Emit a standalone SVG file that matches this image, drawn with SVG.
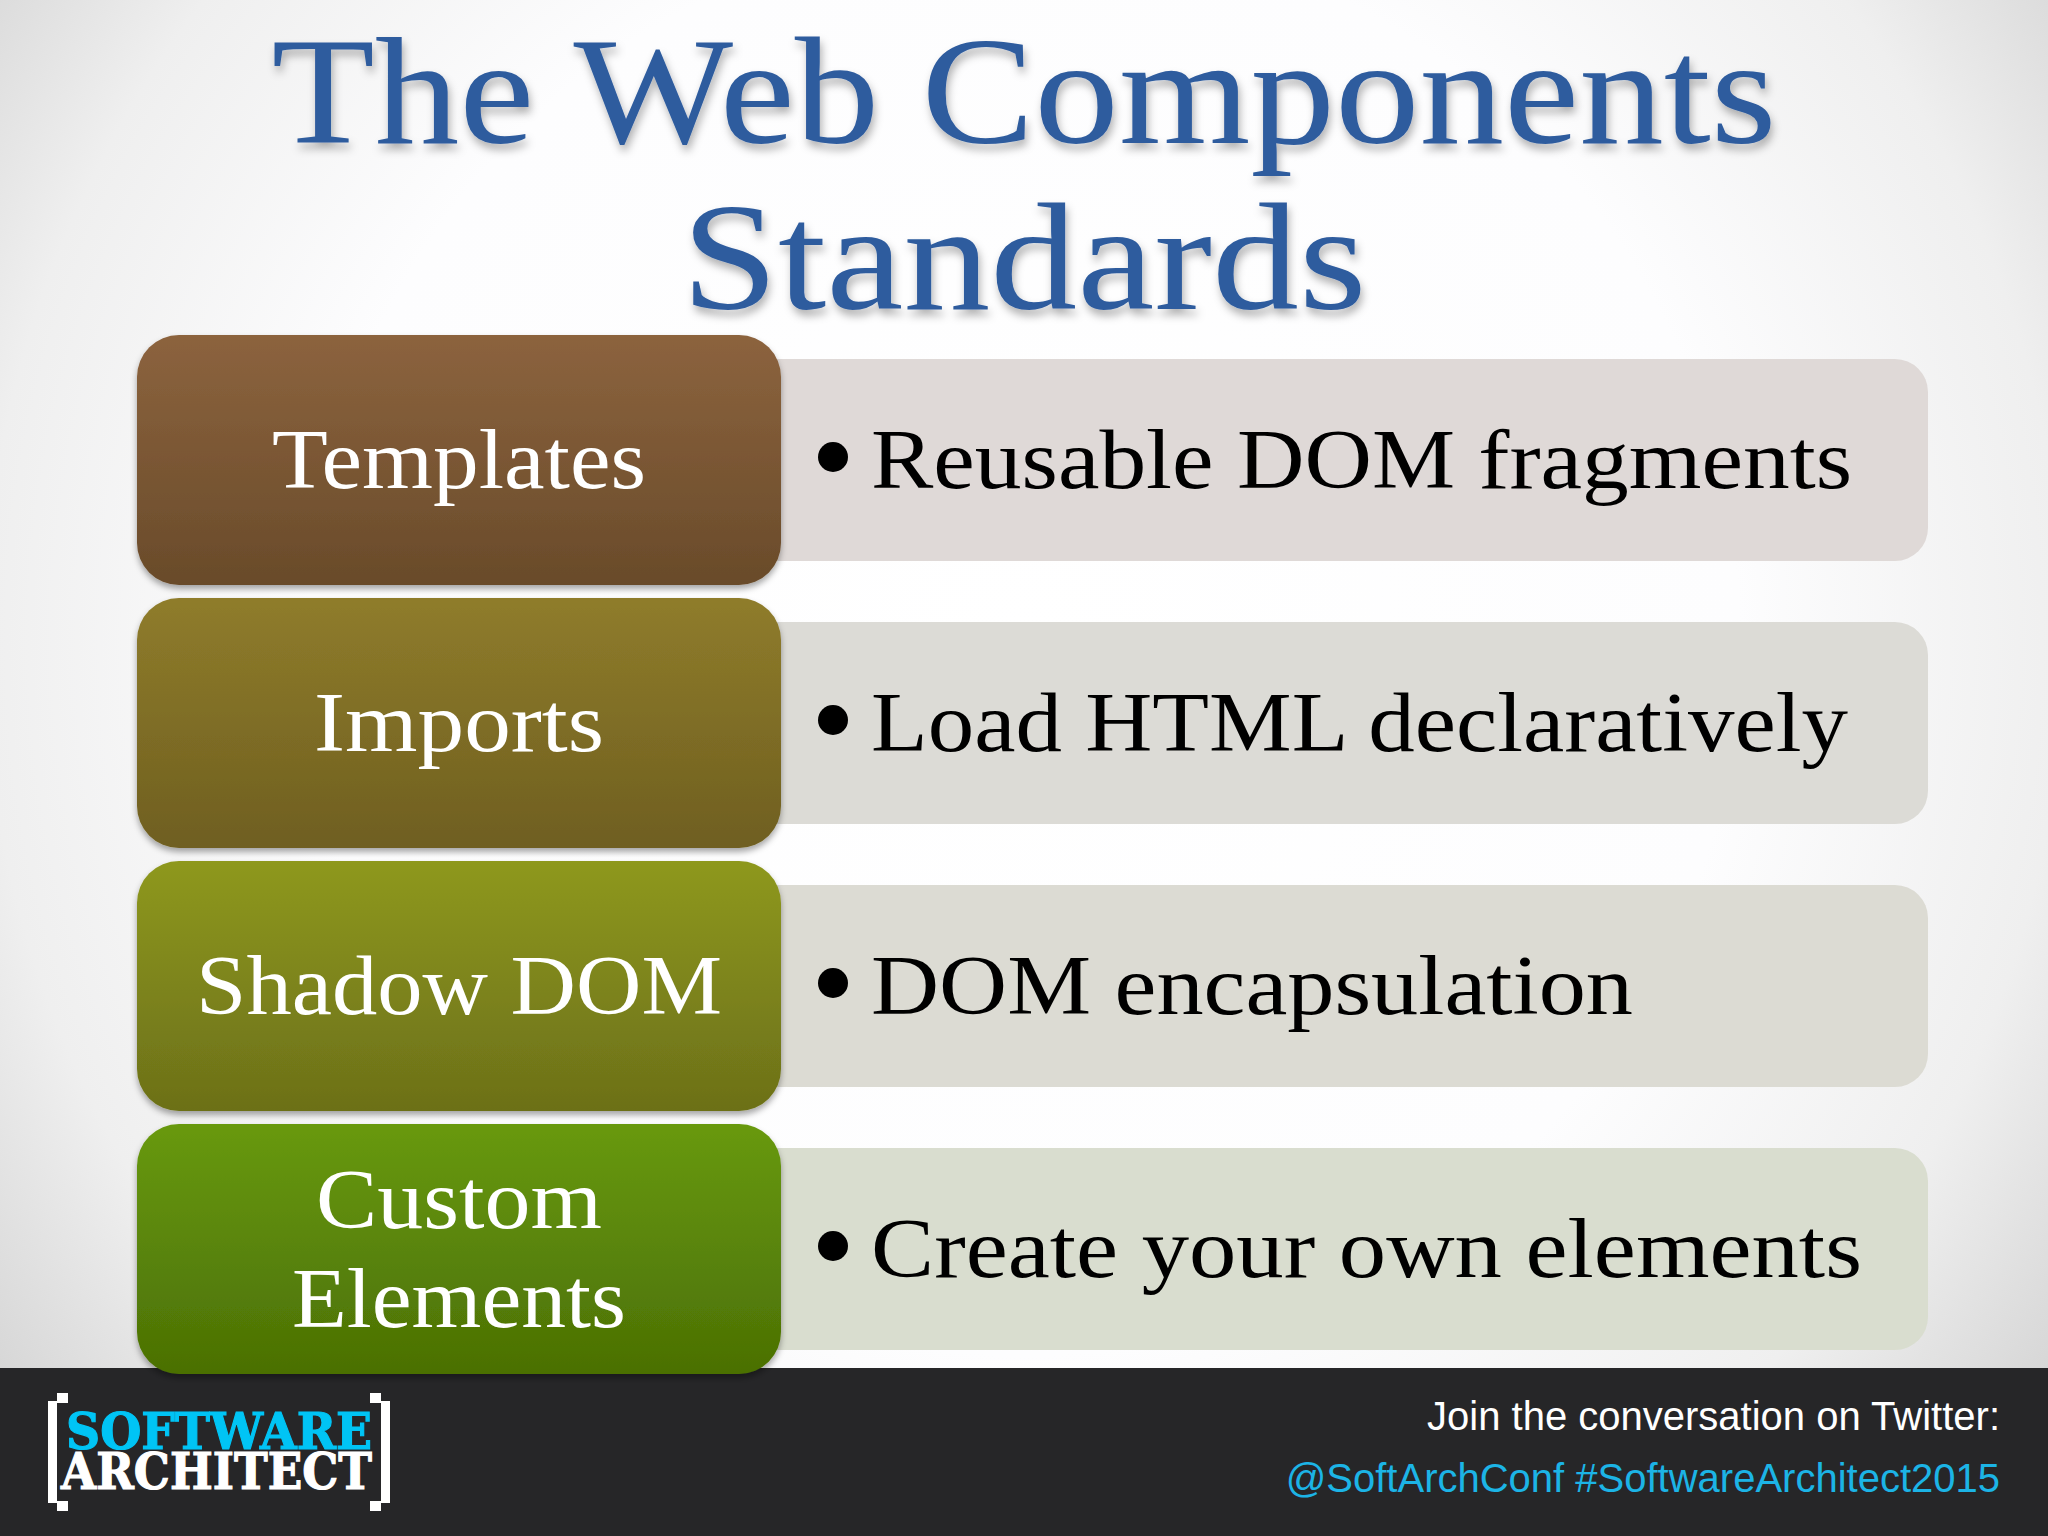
<svg xmlns="http://www.w3.org/2000/svg" width="2048" height="1536" viewBox="0 0 2048 1536">
<style>
.title{font-family:"Liberation Serif",serif;font-size:152px;fill:#2f5c9e;text-anchor:middle;filter:url(#ts)}
.lab{font-family:"Liberation Serif",serif;font-size:85px;fill:#fff;text-anchor:middle}
.body{font-family:"Liberation Serif",serif;font-size:85px;fill:#000}
.foot{font-family:"Liberation Sans",sans-serif;font-size:40px;text-anchor:end}
.logo{font-family:"DejaVu Serif",serif;font-weight:bold;font-size:50px;stroke-width:1.2}
</style>
<defs>
<radialGradient id="bg" gradientUnits="userSpaceOnUse" cx="1024" cy="640" r="1300">
<stop offset="0" stop-color="#ffffff"/><stop offset="0.55" stop-color="#fdfdfe"/><stop offset="0.8" stop-color="#efefef"/><stop offset="1" stop-color="#d2d2d2"/>
</radialGradient>
<linearGradient id="g1" x1="0" y1="0" x2="0" y2="1"><stop offset="0" stop-color="#8c633e"/><stop offset="1" stop-color="#694b2a"/></linearGradient>
<linearGradient id="g2" x1="0" y1="0" x2="0" y2="1"><stop offset="0" stop-color="#8f7c2b"/><stop offset="1" stop-color="#6f5f20"/></linearGradient>
<linearGradient id="g3" x1="0" y1="0" x2="0" y2="1"><stop offset="0" stop-color="#8e981f"/><stop offset="1" stop-color="#6c7018"/></linearGradient>
<linearGradient id="g4" x1="0" y1="0" x2="0" y2="1"><stop offset="0" stop-color="#68990f"/><stop offset="1" stop-color="#4b7004"/></linearGradient>
<filter id="ds" x="-5%" y="-5%" width="110%" height="115%"><feDropShadow dx="0" dy="4" stdDeviation="3" flood-color="#000" flood-opacity="0.35"/></filter>
<filter id="ts" x="-5%" y="-5%" width="110%" height="115%"><feDropShadow dx="2" dy="6" stdDeviation="4" flood-color="#000" flood-opacity="0.3"/></filter>
</defs>
<rect id="background" width="2048" height="1536" fill="url(#bg)"/>
<g id="title">
<text class="title" x="1024" y="143" textLength="1505" lengthAdjust="spacingAndGlyphs">The Web Components</text>
<text class="title" x="1024" y="309" textLength="685" lengthAdjust="spacingAndGlyphs">Standards</text>
</g>
<g id="row1">
<rect x="700" y="359" width="1228" height="202" rx="33" fill="#dfd9d7"/>
<rect x="137" y="335" width="644" height="250" rx="42" fill="url(#g1)" filter="url(#ds)"/>
<text class="lab" x="459" y="488" textLength="374" lengthAdjust="spacingAndGlyphs">Templates</text>
<circle cx="833" cy="457" r="15" fill="#000"/>
<text class="body" x="871" y="488" textLength="981" lengthAdjust="spacingAndGlyphs">Reusable DOM fragments</text>
</g>
<g id="row2">
<rect x="700" y="622" width="1228" height="202" rx="33" fill="#dcdbd6"/>
<rect x="137" y="598" width="644" height="250" rx="42" fill="url(#g2)" filter="url(#ds)"/>
<text class="lab" x="459" y="751" textLength="290" lengthAdjust="spacingAndGlyphs">Imports</text>
<circle cx="833" cy="720" r="15" fill="#000"/>
<text class="body" x="871" y="751" textLength="977" lengthAdjust="spacingAndGlyphs">Load HTML declaratively</text>
</g>
<g id="row3">
<rect x="700" y="885" width="1228" height="202" rx="33" fill="#dcdbd3"/>
<rect x="137" y="861" width="644" height="250" rx="42" fill="url(#g3)" filter="url(#ds)"/>
<text class="lab" x="459" y="1014" textLength="526" lengthAdjust="spacingAndGlyphs">Shadow DOM</text>
<circle cx="833" cy="983" r="15" fill="#000"/>
<text class="body" x="871" y="1014" textLength="762" lengthAdjust="spacingAndGlyphs">DOM encapsulation</text>
</g>
<g id="row4">
<rect x="700" y="1148" width="1228" height="202" rx="33" fill="#d9ddcf"/>
<rect id="footer" x="0" y="1368" width="2048" height="168" fill="#262628"/>
<rect x="137" y="1124" width="644" height="250" rx="42" fill="url(#g4)" filter="url(#ds)"/>
<text class="lab" x="459" y="1228" textLength="286" lengthAdjust="spacingAndGlyphs">Custom</text>
<text class="lab" x="459" y="1327" textLength="334" lengthAdjust="spacingAndGlyphs">Elements</text>
<circle cx="833" cy="1246" r="15" fill="#000"/>
<text class="body" x="871" y="1277" textLength="991" lengthAdjust="spacingAndGlyphs">Create your own elements</text>
</g>
<g id="footer-text">
<text class="foot" x="2000" y="1430" fill="#ffffff">Join the conversation on Twitter:</text>
<text class="foot" x="2000" y="1492" fill="#1cb4e6">@SoftArchConf #SoftwareArchitect2015</text>
</g>
<g id="logo">
<path d="M48 1401h9v-8h11v10h-11v98h11v10h-11v-8h-9z" fill="#fff"/>
<path d="M390 1401h-9v-8h-11v10h11v98h-11v10h11v-8h9z" fill="#fff"/>
<text class="logo" x="66" y="1449" textLength="306" lengthAdjust="spacingAndGlyphs" fill="#00c4f5" stroke="#00c4f5">SOFTWARE</text>
<text class="logo" x="61" y="1489" textLength="311" lengthAdjust="spacingAndGlyphs" fill="#fff" stroke="#fff">ARCHITECT</text>
</g>
</svg>
